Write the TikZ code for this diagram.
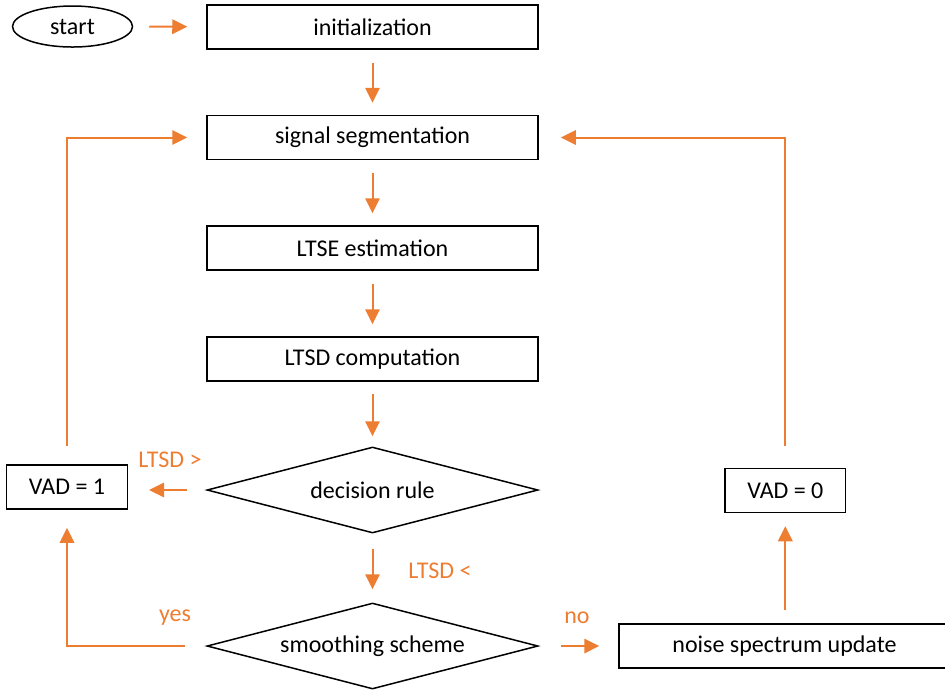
\documentclass[tikz,border=0pt]{standalone}
\usepackage{fontspec}
\setmainfont{Carlito}
\usetikzlibrary{shapes.geometric,arrows.meta}
\definecolor{flow}{HTML}{ED7D31}

\begin{document}
\begin{tikzpicture}[x=0.5pt,y=-0.5pt,
  font=\fontsize{12}{14}\selectfont,
  box/.style={draw=black, line width=0.75pt, rectangle, inner sep=0pt,
    minimum width=165.5pt, minimum height=22pt},
  smallbox/.style={box, minimum width=60.3pt, minimum height=22pt},
  term/.style={draw=black, line width=0.75pt, ellipse, inner sep=0pt,
    minimum width=60pt, minimum height=20.5pt},
  test/.style={draw=black, line width=0.75pt, diamond, inner sep=0pt,
    aspect=3.85, minimum width=165.5pt, minimum height=43pt},
  arr/.style={draw=flow, line width=1pt,
    -{Triangle[length=7.5pt,width=7.2pt]}},
  lab/.style={text=flow, inner sep=0pt}
]
\useasboundingbox (0,0) rectangle (945,693);

% main column
\node[term] (start) at (72.5,26.5) {start};
\node[box] (init) at (372.5,27) {initialization};
\node[box] (seg) at (372.5,137.5) {signal segmentation};
\node[box] (ltse) at (372.5,248) {LTSE estimation};
\node[box] (ltsd) at (372.5,359) {LTSD computation};
\node[test] (dec) at (372.5,490) {decision rule};
\node[test] (smooth) at (372.5,646) {smoothing scheme};

% side nodes
\node[smallbox] (vad1) at (67,487) {VAD = 1};
\node[smallbox] (vad0) at (785.3,490.5) {VAD = 0};
\node[box] (noise) at (784.5,646) {noise spectrum update};

% branch labels
\node[lab] (gt) at (170,460) {LTSD >};
\node[lab] (lt) at (440,571) {LTSD <};
\node[lab] (yes) at (175,618) {yes};
\node[lab] (no) at (577,618) {no};

% connectors
\draw[arr, shorten <=8pt, shorten >=9.5pt] (start) -- (init);
\draw[arr, shorten <=6.5pt, shorten >=6pt] (init) -- (seg);
\draw[arr, shorten <=6.5pt, shorten >=6pt] (seg) -- (ltse);
\draw[arr, shorten <=6.5pt, shorten >=6pt] (ltse) -- (ltsd);
\draw[arr, shorten <=6pt, shorten >=5pt] (ltsd) -- (dec);
\draw[arr, shorten <=9.5pt, shorten >=10.5pt] (dec.west) -- (dec.west -| vad1.east);
\draw[arr, shorten <=7.5pt, shorten >=6.5pt] (dec) -- (smooth);
\draw[arr, shorten <=9pt, shorten >=9.5pt] (vad1.north) |- (seg.west);
\draw[arr, shorten <=10.5pt, shorten >=9pt] (smooth.west) -| (vad1.south);
\draw[arr, shorten <=11pt, shorten >=9.5pt] (smooth) -- (noise);
\draw[arr, shorten <=6.5pt, shorten >=6.5pt] (noise.north -| vad0) -- (vad0.south);
\draw[arr, shorten <=11pt, shorten >=11pt] (vad0.north) |- (seg.east);
\end{tikzpicture}
\end{document}
